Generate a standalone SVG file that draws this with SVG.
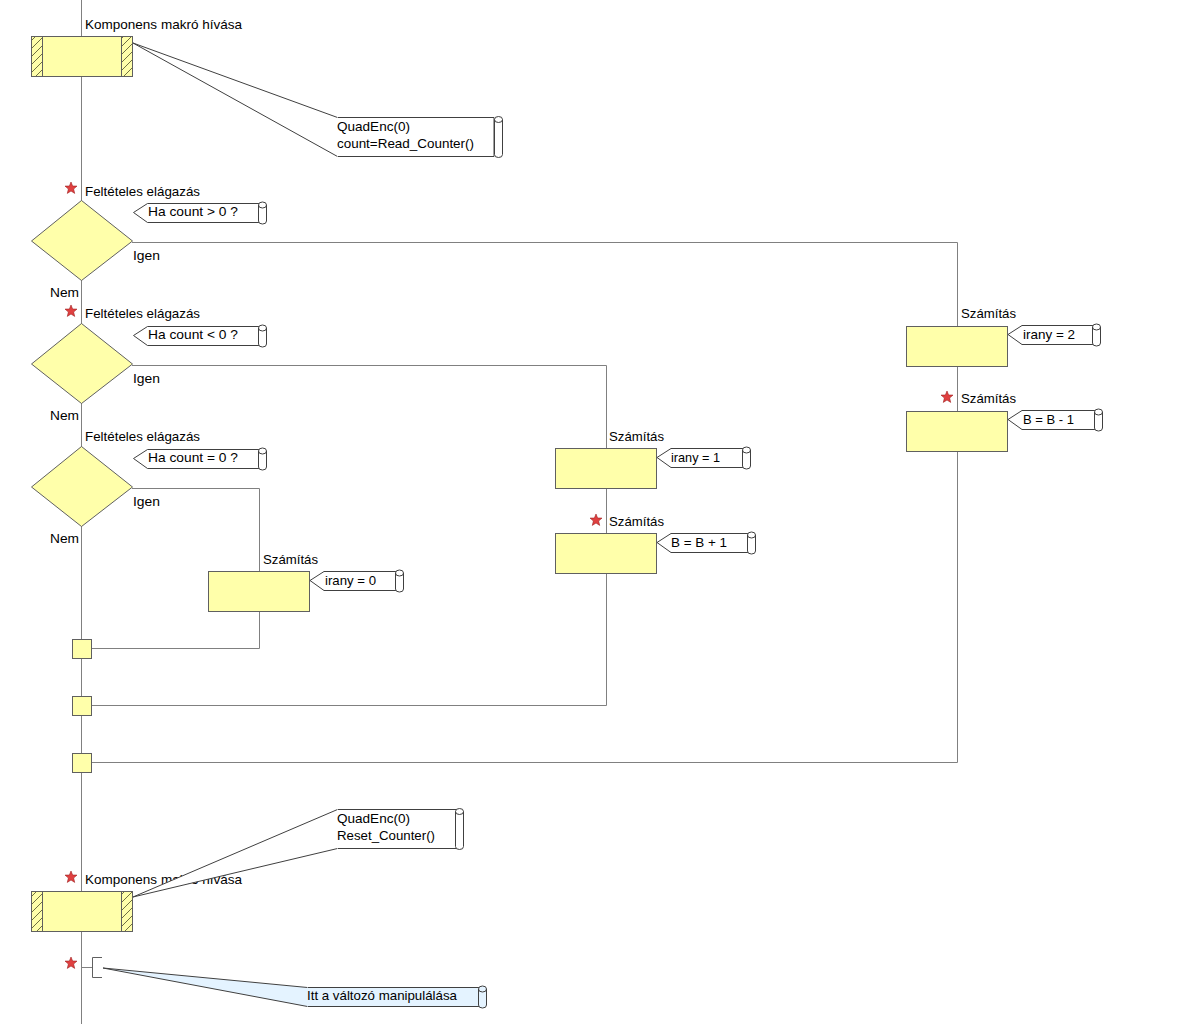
<svg xmlns="http://www.w3.org/2000/svg" width="1188" height="1024" viewBox="0 0 1188 1024">
<style>
text{font-family:"Liberation Sans",Arial,sans-serif;font-size:13px;fill:#000}
.ln{stroke:#808080;stroke-width:1;fill:none}
.box{fill:#ffffaa;stroke:#606060;stroke-width:1}
.cm{fill:#fff;stroke:#404040;stroke-width:1}
.cb{fill:#e4f3ff;stroke:#404040;stroke-width:1}
.sc{fill:#fff;stroke:#404040;stroke-width:1}
.star{fill:#e04040;stroke:#a02020;stroke-width:0.6}
</style>
<defs>
<pattern id="hatch" patternUnits="userSpaceOnUse" width="8" height="8">
<rect width="8" height="8" fill="#ffffaa"/>
<path d="M0 8L8 0M-2 2L2 -2M6 10L10 6" stroke="#707040" stroke-width="1"/>
</pattern>
<polygon id="star" class="star" points="0,-6 1.6,-2 6,-1.9 2.6,1 3.7,5.4 0,3 -3.7,5.4 -2.6,1 -6,-1.9 -1.6,-2"/>
</defs>
<rect width="1188" height="1024" fill="#fff"/>
<g id="connectors">
<line class="ln" x1="81.5" y1="0" x2="81.5" y2="1024"/>
<polyline class="ln" points="132,242.5 957.5,242.5 957.5,762.5 91,762.5"/>
<polyline class="ln" points="132,365.5 606.5,365.5 606.5,705.5 91,705.5"/>
<polyline class="ln" points="132,488.5 259.5,488.5 259.5,648.5 91,648.5"/>
<line class="ln" x1="81.5" y1="967.5" x2="92" y2="967.5"/>
</g>
<g id="macro1">
<rect class="box" x="31.5" y="36.5" width="101" height="40"/>
<rect x="31.5" y="36.5" width="11" height="40" fill="url(#hatch)" stroke="#606060"/>
<rect x="121.5" y="36.5" width="11" height="40" fill="url(#hatch)" stroke="#606060"/>
<text x="85" y="29" textLength="157" lengthAdjust="spacingAndGlyphs">Komponens makró hívása</text>
<polygon class="cm" points="133,43 337.5,117.5 494,117.5 494,156.5 337.5,156.5"/>
<line x1="337.5" y1="117.5" x2="337.5" y2="156.5" stroke="#fff"/>
<path class="sc" d="M494.5 119.5v35a4 3 0 0 0 8 0v-35a4 3 0 0 0-8 0a4 3 0 0 0 8 0"/>
<text x="337" y="131" textLength="73" lengthAdjust="spacingAndGlyphs">QuadEnc(0)</text>
<text x="337" y="148" textLength="137" lengthAdjust="spacingAndGlyphs">count=Read_Counter()</text>
</g>
<g id="decision1">
<polygon class="box" points="81.5,200.5 132.5,241 81.5,280.5 31.5,241"/>
<use href="#star" x="71" y="188"/>
<text x="85" y="196" textLength="115" lengthAdjust="spacingAndGlyphs">Feltételes elágazás</text>
<polygon class="cm" points="133.5,212.5 147.5,203.5 260,203.5 260,222.5 147.5,222.5"/>
<path class="sc" d="M258.5 205v16a4 3 0 0 0 8 0v-16a4 3 0 0 0-8 0a4 3 0 0 0 8 0"/>
<text x="148" y="216" textLength="90" lengthAdjust="spacingAndGlyphs">Ha count &gt; 0 ?</text>
<text x="133" y="260" textLength="27" lengthAdjust="spacingAndGlyphs">Igen</text>
<text x="50" y="297" textLength="29" lengthAdjust="spacingAndGlyphs">Nem</text>
</g>
<g id="decision2">
<polygon class="box" points="81.5,323.5 132.5,364 81.5,403.5 31.5,364"/>
<use href="#star" x="71" y="311"/>
<text x="85" y="318" textLength="115" lengthAdjust="spacingAndGlyphs">Feltételes elágazás</text>
<polygon class="cm" points="133.5,335.5 147.5,326.5 260,326.5 260,345.5 147.5,345.5"/>
<path class="sc" d="M258.5 328v16a4 3 0 0 0 8 0v-16a4 3 0 0 0-8 0a4 3 0 0 0 8 0"/>
<text x="148" y="339" textLength="90" lengthAdjust="spacingAndGlyphs">Ha count &lt; 0 ?</text>
<text x="133" y="383" textLength="27" lengthAdjust="spacingAndGlyphs">Igen</text>
<text x="50" y="420" textLength="29" lengthAdjust="spacingAndGlyphs">Nem</text>
</g>
<g id="decision3">
<polygon class="box" points="81.5,446.5 132.5,487 81.5,526.5 31.5,487"/>
<text x="85" y="441" textLength="115" lengthAdjust="spacingAndGlyphs">Feltételes elágazás</text>
<polygon class="cm" points="133.5,458.5 147.5,449.5 260,449.5 260,468.5 147.5,468.5"/>
<path class="sc" d="M258.5 451v16a4 3 0 0 0 8 0v-16a4 3 0 0 0-8 0a4 3 0 0 0 8 0"/>
<text x="148" y="462" textLength="90" lengthAdjust="spacingAndGlyphs">Ha count = 0 ?</text>
<text x="133" y="506" textLength="27" lengthAdjust="spacingAndGlyphs">Igen</text>
<text x="50" y="543" textLength="29" lengthAdjust="spacingAndGlyphs">Nem</text>
</g>
<g id="calc0">
<rect class="box" x="208.5" y="571.5" width="101" height="40"/>
<text x="263" y="564" textLength="55" lengthAdjust="spacingAndGlyphs">Számítás</text>
<polygon class="cm" points="310,580.5 324,571.5 397,571.5 397,590.5 324,590.5"/>
<path class="sc" d="M395.5 573v16a4 3 0 0 0 8 0v-16a4 3 0 0 0-8 0a4 3 0 0 0 8 0"/>
<text x="325" y="585" textLength="51" lengthAdjust="spacingAndGlyphs">irany = 0</text>
</g>
<g id="calc1">
<rect class="box" x="555.5" y="448.5" width="101" height="40"/>
<text x="609" y="441" textLength="55" lengthAdjust="spacingAndGlyphs">Számítás</text>
<polygon class="cm" points="657,457.5 671,448.5 744,448.5 744,467.5 671,467.5"/>
<path class="sc" d="M742.5 450v16a4 3 0 0 0 8 0v-16a4 3 0 0 0-8 0a4 3 0 0 0 8 0"/>
<text x="671" y="462" textLength="49" lengthAdjust="spacingAndGlyphs">irany = 1</text>
</g>
<g id="calc2">
<rect class="box" x="555.5" y="533.5" width="101" height="40"/>
<use href="#star" x="596" y="520"/>
<text x="609" y="526" textLength="55" lengthAdjust="spacingAndGlyphs">Számítás</text>
<polygon class="cm" points="657,542.5 671,533.5 749,533.5 749,552.5 671,552.5"/>
<path class="sc" d="M747.5 535v16a4 3 0 0 0 8 0v-16a4 3 0 0 0-8 0a4 3 0 0 0 8 0"/>
<text x="671" y="547" textLength="56" lengthAdjust="spacingAndGlyphs">B = B + 1</text>
</g>
<g id="calc3">
<rect class="box" x="906.5" y="326.5" width="101" height="40"/>
<text x="961" y="318" textLength="55" lengthAdjust="spacingAndGlyphs">Számítás</text>
<polygon class="cm" points="1008,334.5 1022,325.5 1094,325.5 1094,344.5 1022,344.5"/>
<path class="sc" d="M1092.5 327v16a4 3 0 0 0 8 0v-16a4 3 0 0 0-8 0a4 3 0 0 0 8 0"/>
<text x="1023" y="339" textLength="52" lengthAdjust="spacingAndGlyphs">irany = 2</text>
</g>
<g id="calc4">
<rect class="box" x="906.5" y="411.5" width="101" height="40"/>
<use href="#star" x="947" y="397"/>
<text x="961" y="403" textLength="55" lengthAdjust="spacingAndGlyphs">Számítás</text>
<polygon class="cm" points="1008,419.5 1022,410.5 1096,410.5 1096,429.5 1022,429.5"/>
<path class="sc" d="M1094.5 412v16a4 3 0 0 0 8 0v-16a4 3 0 0 0-8 0a4 3 0 0 0 8 0"/>
<text x="1023" y="424" textLength="51" lengthAdjust="spacingAndGlyphs">B = B - 1</text>
</g>
<g id="join1"><rect class="box" x="72.5" y="639.5" width="19" height="19"/></g>
<g id="join2"><rect class="box" x="72.5" y="696.5" width="19" height="19"/></g>
<g id="join3"><rect class="box" x="72.5" y="753.5" width="19" height="19"/></g>
<g id="macro2">
<rect class="box" x="31.5" y="891.5" width="101" height="40"/>
<rect x="31.5" y="891.5" width="11" height="40" fill="url(#hatch)" stroke="#606060"/>
<rect x="121.5" y="891.5" width="11" height="40" fill="url(#hatch)" stroke="#606060"/>
<use href="#star" x="71" y="877"/>
<text x="85" y="884" textLength="157" lengthAdjust="spacingAndGlyphs">Komponens makró hívása</text>
<polygon class="cm" points="133,897 337.5,809.5 457,809.5 457,848.5 337.5,848.5"/>
<line x1="337.5" y1="809.5" x2="337.5" y2="848.5" stroke="#fff"/>
<path class="sc" d="M455.5 811.5v35a4 3 0 0 0 8 0v-35a4 3 0 0 0-8 0a4 3 0 0 0 8 0"/>
<text x="337" y="823" textLength="73" lengthAdjust="spacingAndGlyphs">QuadEnc(0)</text>
<text x="337" y="840" textLength="98" lengthAdjust="spacingAndGlyphs">Reset_Counter()</text>
</g>
<g id="comment">
<use href="#star" x="71" y="963"/>
<polyline points="102,957.5 92.5,957.5 92.5,977.5 102,977.5" fill="none" stroke="#606060"/>
<polygon class="cb" points="103,968 307.5,987.5 480,987.5 480,1006.5 307.5,1006.5"/>
<line x1="307.5" y1="987.5" x2="307.5" y2="1006.5" stroke="#e4f3ff"/>
<path class="cb" d="M478.5 989v16a4 3 0 0 0 8 0v-16a4 3 0 0 0-8 0a4 3 0 0 0 8 0"/>
<text x="307" y="1000" textLength="150" lengthAdjust="spacingAndGlyphs">Itt a változó manipulálása</text>
</g>
</svg>
